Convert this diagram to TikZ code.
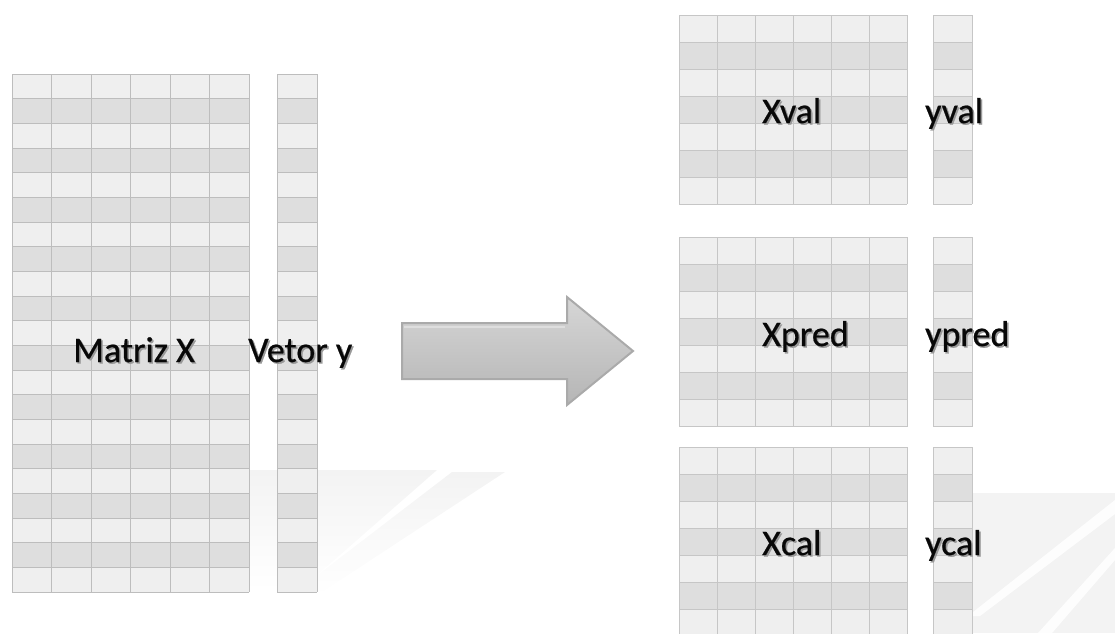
\documentclass[tikz,border=0pt]{standalone}
\usepackage{fontspec}
\setmainfont[FakeBold=0.6]{Carlito}
\definecolor{cellL}{HTML}{EFEFEF}
\definecolor{cellD}{HTML}{DEDEDE}
\definecolor{gridL}{HTML}{BDBDBD}
\definecolor{gridR}{HTML}{C6C6C6}
\definecolor{arrowEdge}{HTML}{AAAAAA}
\definecolor{inkText}{HTML}{080808}
\definecolor{haze}{HTML}{F3F3F3}

% text with a soft drop shadow
\newcommand\shadowed[1]{\rlap{\kern1.6pt\raisebox{-1.6pt}{\textcolor{black!40}{#1}}}#1}

% striped grid: x0, y0, columns, rows, cell width, row height, line colour
\newcommand\matgrid[7]{%
  \pgfmathtruncatemacro\lastrow{#4-1}%
  \foreach \r in {0,...,\lastrow}{%
    \pgfmathtruncatemacro\oddrow{mod(\r,2)}%
    \ifnum\oddrow=1 \def\cellcol{cellD}\else\def\cellcol{cellL}\fi
    \fill[\cellcol] (#1,{#2+\r*#6}) rectangle ++({#3*#5},#6);
  }%
  \foreach \c in {0,...,#3}
    \draw[#7, line width=1pt] ({#1+\c*#5},#2) -- ++(0,{#4*#6});
  \foreach \r in {0,...,#4}
    \draw[#7, line width=1pt] (#1,{#2+\r*#6}) -- ++({#3*#5},0);
}

\tikzset{
  lbl/.style={anchor=base west, inner sep=0pt, text=inkText,
    font=\fontsize{36}{40}\selectfont},
}

\begin{document}
\begin{tikzpicture}[x=1pt,y=-1pt]
\useasboundingbox (0,0) rectangle (1115,633);
\clip (0,0) rectangle (1115,633);

% faint background streaks
\shade[top color=haze, bottom color=white]
  (210,470) -- (437,470) -- (300,590) -- (210,590) -- cycle;
\shade[top color=haze, bottom color=white]
  (452,472) -- (505,472) -- (316,596) -- (298,590) -- cycle;
\fill[haze] (972,493) rectangle (1115,633);
\fill[white, opacity=0.9] (1115,500) -- (1115,514) -- (980,616) -- (968,616) -- cycle;
\fill[white, opacity=0.9] (1115,548) -- (1115,560) -- (1052,633) -- (1038,633) -- cycle;

% full data set
\matgrid{12}{74}{6}{21}{39.5}{24.67}{gridL}
\matgrid{277}{74}{1}{21}{40}{24.67}{gridL}

% validation, prediction and calibration blocks
\matgrid{679}{15}{6}{7}{38}{27}{gridR}
\matgrid{933}{15}{1}{7}{39}{27}{gridR}
\matgrid{679}{237}{6}{7}{38}{27.1}{gridR}
\matgrid{933}{237}{1}{7}{39}{27.1}{gridR}
\matgrid{679}{447}{6}{7}{38}{27.1}{gridR}
\matgrid{933}{447}{1}{7}{39}{27.1}{gridR}

% block arrow
\shade[top color=black!16, middle color=black!25, bottom color=black!29,
       draw=arrowEdge, line width=2pt, line join=miter]
  (402,323) -- (567,323) -- (567,297) -- (633,351) -- (567,405)
  -- (567,379) -- (402,379) -- cycle;
\draw[white, opacity=0.35, line width=1.5pt] (404,327) -- (565,327);

% labels
\node[lbl] (mx)    at (73,362)  {\shadowed{Matriz X}};
\node[lbl] (vy)    at (248,362) {\shadowed{Vetor y}};
\node[lbl] (xval)  at (762,123) {\shadowed{Xval}};
\node[lbl] (yval)  at (925,123) {\shadowed{yval}};
\node[lbl] (xpred) at (762,346) {\shadowed{Xpred}};
\node[lbl] (ypred) at (925,346) {\shadowed{ypred}};
\node[lbl] (xcal)  at (762,555) {\shadowed{Xcal}};
\node[lbl] (ycal)  at (925,555) {\shadowed{ycal}};
\end{tikzpicture}
\end{document}
